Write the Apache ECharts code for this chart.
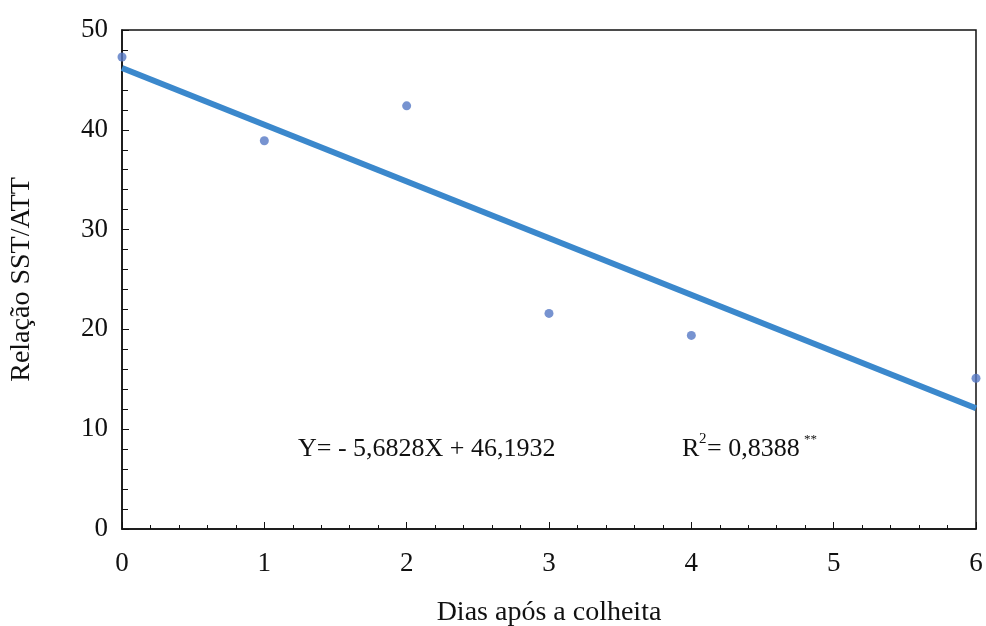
<!DOCTYPE html>
<html>
<head>
<meta charset="utf-8">
<script src="https://cdn.jsdelivr.net/npm/echarts@6/dist/echarts.min.js"></script>
<style>
  html, body { margin: 0; padding: 0; background: #fff; }
  #chart { width: 986px; height: 626px; }
</style>
</head>
<body>
<div id="chart"></div>
<script>
// Observed SST/ATT ratio per day after harvest
const dias = [0, 1, 2, 3, 4, 6];
const relacao = [47.3, 38.9, 42.4, 21.6, 19.4, 15.1];

// Fitted linear regression (as printed on the chart)
const slope = -5.6828;
const intercept = 46.1932;
const fitX = [0, 6];

const xTicks = [0, 1, 2, 3, 4, 5, 6];
const yTicks = [0, 10, 20, 30, 40, 50];

const serif = '"Liberation Serif", "Times New Roman", serif';
const ink = '#111';

const chart = echarts.init(document.getElementById('chart'));

chart.setOption({
  animation: false,
  backgroundColor: '#ffffff',
  grid: {
    left: 122, right: 10, top: 30, bottom: 97,
    containLabel: false,
    outerBoundsMode: 'none',
    show: true, borderColor: ink, borderWidth: 1.5
  },
  xAxis: {
    type: 'value',
    min: xTicks[0], max: xTicks[xTicks.length - 1], interval: 1,
    name: 'Dias após a colheita',
    nameLocation: 'middle', nameGap: 70,
    nameTextStyle: { fontFamily: serif, fontSize: 28, color: ink },
    axisLine: { show: true, lineStyle: { color: ink, width: 1.5 } },
    axisTick: { show: true, inside: true, length: 7, lineStyle: { color: ink, width: 1 } },
    minorTick: { show: true, splitNumber: 5, length: 4, lineStyle: { color: ink, width: 1 } },
    axisLabel: { fontFamily: serif, fontSize: 27, color: ink, margin: 21 },
    splitLine: { show: false }
  },
  yAxis: {
    type: 'value',
    min: yTicks[0], max: yTicks[yTicks.length - 1], interval: 10,
    name: 'Relação SST/ATT',
    nameLocation: 'middle', nameGap: 86, nameRotate: 90,
    nameTextStyle: { fontFamily: serif, fontSize: 28, color: ink },
    axisLine: { show: true, lineStyle: { color: ink, width: 1.5 } },
    axisTick: { show: true, inside: true, length: 7, lineStyle: { color: ink, width: 1 } },
    minorTick: { show: true, splitNumber: 5, length: 6, lineStyle: { color: ink, width: 1 } },
    axisLabel: { fontFamily: serif, fontSize: 27, color: ink, margin: 14 },
    splitLine: { show: false }
  },
  series: [
    {
      type: 'line',
      data: fitX.map(x => [x, intercept + slope * x]),
      showSymbol: false,
      lineStyle: { color: '#3b88cc', width: 6 },
      z: 2
    },
    {
      type: 'scatter',
      data: dias.map((d, i) => [d, relacao[i]]),
      symbol: 'circle',
      symbolSize: 9,
      itemStyle: { color: '#5578c4' },
      z: 3
    }
  ],
  graphic: [
    {
      type: 'text', left: 298, top: 436,
      style: { text: 'Y= - 5,6828X + 46,1932', font: '26px ' + serif, fill: ink }
    },
    {
      type: 'text', left: 682, top: 436,
      style: { text: 'R', font: '26px ' + serif, fill: ink }
    },
    {
      type: 'text', left: 699, top: 432,
      style: { text: '2', font: '15px ' + serif, fill: ink }
    },
    {
      type: 'text', left: 707, top: 436,
      style: { text: '= 0,8388', font: '26px ' + serif, fill: ink }
    },
    {
      type: 'text', left: 804, top: 433,
      style: { text: '**', font: '13px ' + serif, fill: ink }
    }
  ]
});
</script>
</body>
</html>
